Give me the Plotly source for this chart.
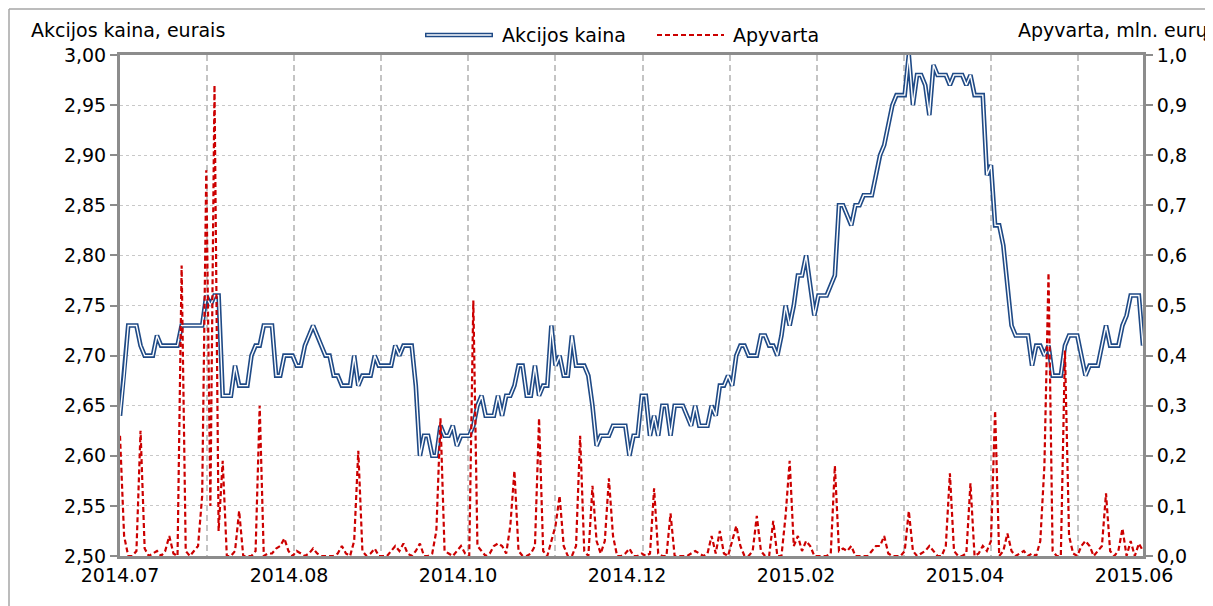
import plotly.graph_objects as go

# ---- data ----
price = [
    2.64, 2.68, 2.73, 2.73, 2.73, 2.71, 2.70, 2.70, 2.70, 2.72,
    2.71, 2.71, 2.71, 2.71, 2.71, 2.73, 2.73, 2.73, 2.73, 2.73,
    2.73, 2.76, 2.75, 2.76, 2.76, 2.66, 2.66, 2.66, 2.69, 2.67,
    2.67, 2.67, 2.70, 2.71, 2.71, 2.73, 2.73, 2.73, 2.68, 2.68,
    2.70, 2.70, 2.70, 2.69, 2.69, 2.71, 2.72, 2.73, 2.72, 2.71,
    2.70, 2.70, 2.68, 2.68, 2.67, 2.67, 2.67, 2.70, 2.67, 2.68,
    2.68, 2.68, 2.70, 2.69, 2.69, 2.69, 2.69, 2.71, 2.70, 2.71,
    2.71, 2.71, 2.67, 2.60, 2.62, 2.62, 2.60, 2.60, 2.63, 2.62,
    2.62, 2.63, 2.61, 2.62, 2.62, 2.62, 2.63, 2.65, 2.66, 2.64,
    2.64, 2.64, 2.66, 2.64, 2.66, 2.66, 2.67, 2.69, 2.69, 2.66,
    2.66, 2.69, 2.66, 2.67, 2.67, 2.73, 2.69, 2.70, 2.68, 2.68,
    2.72, 2.69, 2.69, 2.69, 2.68, 2.65, 2.61, 2.62, 2.62, 2.62,
    2.63, 2.63, 2.63, 2.63, 2.60, 2.62, 2.62, 2.66, 2.66, 2.62,
    2.64, 2.62, 2.65, 2.65, 2.62, 2.65, 2.65, 2.65, 2.64, 2.63,
    2.65, 2.63, 2.63, 2.63, 2.65, 2.64, 2.67, 2.67, 2.68, 2.67,
    2.70, 2.71, 2.71, 2.70, 2.70, 2.70, 2.72, 2.72, 2.71, 2.71,
    2.70, 2.72, 2.75, 2.73, 2.75, 2.78, 2.78, 2.80, 2.77, 2.74,
    2.76, 2.76, 2.76, 2.77, 2.78, 2.85, 2.85, 2.84, 2.83, 2.85,
    2.85, 2.86, 2.86, 2.86, 2.88, 2.90, 2.91, 2.93, 2.95, 2.96,
    2.96, 2.96, 3.00, 2.95, 2.98, 2.98, 2.97, 2.94, 2.99, 2.98,
    2.98, 2.98, 2.97, 2.98, 2.98, 2.98, 2.97, 2.98, 2.96, 2.96,
    2.96, 2.88, 2.89, 2.83, 2.83, 2.81, 2.77, 2.73, 2.72, 2.72,
    2.72, 2.72, 2.69, 2.71, 2.71, 2.70, 2.71, 2.68, 2.68, 2.68,
    2.71, 2.72, 2.72, 2.72, 2.70, 2.68, 2.69, 2.69, 2.69, 2.71,
    2.73, 2.71, 2.71, 2.71, 2.73, 2.74, 2.76, 2.76, 2.76, 2.71,
]

turnover = [
    0.24, 0.04, 0.0, 0.0, 0.01, 0.25, 0.015, 0.0, 0.005, 0.01,
    0.0, 0.01, 0.04, 0.005, 0.0, 0.58, 0.01, 0.0, 0.01, 0.02,
    0.12, 0.77, 0.10, 0.94, 0.05, 0.19, 0.0, 0.0, 0.01, 0.09,
    0.0, 0.0, 0.0, 0.01, 0.30, 0.0, 0.005, 0.005, 0.015, 0.02,
    0.035, 0.01, 0.0, 0.01, 0.005, 0.0, 0.005, 0.015, 0.005, 0.0,
    0.0, 0.0, 0.0, 0.005, 0.02, 0.005, 0.0, 0.03, 0.21, 0.01,
    0.0, 0.005, 0.015, 0.0, 0.0, 0.0, 0.01, 0.02, 0.01, 0.025,
    0.005, 0.0, 0.01, 0.025, 0.0, 0.0, 0.005, 0.05, 0.275, 0.01,
    0.005, 0.0, 0.01, 0.02, 0.005, 0.0, 0.51, 0.02, 0.01, 0.0,
    0.005, 0.02, 0.025, 0.02, 0.005, 0.06, 0.17, 0.01, 0.0, 0.0,
    0.005, 0.02, 0.275, 0.01, 0.0, 0.03, 0.06, 0.12, 0.02, 0.0,
    0.0, 0.02, 0.24, 0.01, 0.0, 0.14, 0.03, 0.005, 0.03, 0.155,
    0.04, 0.0, 0.0, 0.005, 0.015, 0.0, 0.0, 0.005, 0.0, 0.005,
    0.135, 0.005, 0.0, 0.0, 0.085, 0.0, 0.0, 0.0, 0.0, 0.005,
    0.01, 0.005, 0.0, 0.005, 0.04, 0.005, 0.05, 0.005, 0.0, 0.03,
    0.06, 0.02, 0.0, 0.0, 0.01, 0.08, 0.01, 0.0, 0.0, 0.07,
    0.0, 0.0, 0.08, 0.19, 0.02, 0.04, 0.01, 0.03, 0.02, 0.0,
    0.0, 0.0, 0.0, 0.005, 0.18, 0.01, 0.015, 0.01, 0.02, 0.0,
    0.0, 0.0, 0.0, 0.01, 0.02, 0.02, 0.04, 0.005, 0.0, 0.0,
    0.0, 0.01, 0.09, 0.01, 0.0, 0.005, 0.01, 0.02, 0.01, 0.0,
    0.0, 0.02, 0.165, 0.01, 0.0, 0.0, 0.005, 0.145, 0.0, 0.005,
    0.02, 0.01, 0.03, 0.29, 0.0, 0.01, 0.045, 0.01, 0.0, 0.005,
    0.01, 0.0, 0.005, 0.0, 0.03, 0.18, 0.565, 0.01, 0.0, 0.0,
    0.41, 0.04, 0.005, 0.0, 0.02, 0.03, 0.02, 0.0, 0.01, 0.02,
    0.125, 0.01, 0.0, 0.01, 0.055, 0.0, 0.03, 0.0, 0.025, 0.01,
]

tick_labels = ["2014.07", "2014.08", "2014.10", "2014.12", "2015.02", "2015.04", "2015.06"]
series_names = ["Akcijos kaina", "Apyvarta"]
left_title = "Akcijos kaina, eurais"
right_title = "Apyvarta, mln. eurų"

# ---- layout constants (page body adds an 8px offset) ----
OFF = 8
W_PX, H_PX = 1213 - OFF, 606 - OFF
L, R, T, B = 120 - OFF, 1143 - OFF, 55 - OFF, 556 - OFF
LABEL_STEP = 41.14   # trading days between x labels
GRID_STEP = 21.2     # trading days between vertical gridlines

FONT = "DejaVu Sans"
FS = 19
BLUE = "#1F4A86"
RED = "#CC0000"
AXIS = "#8C8C8C"

n = len(price)
idx = list(range(n))

def px_x(p):
    """reference-screen x pixel -> paper coordinate"""
    return (p - OFF - L) / (R - L)

def px_y(p):
    """reference-screen y pixel -> paper coordinate"""
    return (B - (p - OFF)) / (B - T)

fig = go.Figure()
fig.add_trace(go.Scatter(x=idx, y=price, mode="lines", name=series_names[0],
                         line=dict(color=BLUE, width=4.6), showlegend=False,
                         hoverinfo="skip"))
fig.add_trace(go.Scatter(x=idx, y=price, mode="lines", name=series_names[0],
                         line=dict(color="#FFFFFF", width=1.4), showlegend=False))
fig.add_trace(go.Scatter(x=idx, y=turnover, mode="lines", name=series_names[1],
                         yaxis="y2", line=dict(color=RED, width=2.2, dash="5px,3px"),
                         showlegend=False))

tickvals = [i * LABEL_STEP for i in range(len(tick_labels))]
grid_vals = [k * GRID_STEP for k in range(1, 12)]

fig.update_layout(
    width=W_PX, height=H_PX,
    margin=dict(l=L, r=W_PX - R, t=T, b=H_PX - B, pad=0),
    paper_bgcolor="white", plot_bgcolor="white",
    separators=",.",
    font=dict(family=FONT, size=FS, color="#000000"),
    xaxis=dict(range=[0, n - 1], tickmode="array", tickvals=tickvals,
               ticktext=tick_labels, showgrid=False, zeroline=False,
               showline=True, linecolor=AXIS, linewidth=3, mirror=True,
               ticks="", tickfont=dict(size=FS),
               minor=dict(tickmode="array", tickvals=grid_vals, showgrid=True,
                          gridcolor="#C4C4C4", griddash="6px,4px", gridwidth=1.6,
                          ticks="")),
    yaxis=dict(range=[2.5, 3.0], tickmode="linear", tick0=2.5, dtick=0.05,
               tickformat=".2f", showgrid=True, gridcolor="#C8C8C8",
               griddash="dot", gridwidth=1, zeroline=False, showline=True,
               linecolor=AXIS, linewidth=3, ticks="outside", ticklen=7,
               tickcolor=AXIS, tickwidth=1.5, tickfont=dict(size=FS)),
    yaxis2=dict(range=[0, 1.0], tickmode="linear", tick0=0, dtick=0.1,
                tickformat=".1f", overlaying="y", side="right", showgrid=False,
                zeroline=False, showline=True, linecolor=AXIS, linewidth=3,
                ticks="outside", ticklen=7, tickcolor=AXIS, tickwidth=1.5,
                tickfont=dict(size=FS)),
    showlegend=False,
)

shapes = []
# outer chart border (left and top edges visible)
shapes.append(dict(type="line", xref="paper", yref="paper",
                   x0=px_x(9), x1=px_x(9), y0=px_y(9), y1=px_y(640),
                   line=dict(color="#A6A6A6", width=1.5)))
shapes.append(dict(type="line", xref="paper", yref="paper",
                   x0=px_x(9), x1=px_x(1240), y0=px_y(9), y1=px_y(9),
                   line=dict(color="#A6A6A6", width=1.5)))
# custom legend samples
shapes.append(dict(type="line", xref="paper", yref="paper",
                   x0=px_x(425), x1=px_x(493), y0=px_y(35), y1=px_y(35),
                   line=dict(color=BLUE, width=4.6)))
shapes.append(dict(type="line", xref="paper", yref="paper",
                   x0=px_x(426.5), x1=px_x(491.5), y0=px_y(35), y1=px_y(35),
                   line=dict(color="#FFFFFF", width=1.4)))
shapes.append(dict(type="line", xref="paper", yref="paper",
                   x0=px_x(657), x1=px_x(724), y0=px_y(35), y1=px_y(35),
                   line=dict(color=RED, width=2.2, dash="5px,3px")))
fig.update_layout(shapes=shapes)

annotations = [
    dict(text=left_title, xref="paper", yref="paper", x=px_x(29), y=px_y(30),
         xanchor="left", yanchor="middle", showarrow=False, font=dict(size=FS)),
    dict(text=right_title, xref="paper", yref="paper", x=px_x(1210), y=px_y(30),
         xanchor="right", yanchor="middle", showarrow=False, font=dict(size=FS)),
    dict(text=series_names[0], xref="paper", yref="paper", x=px_x(500), y=px_y(35),
         xanchor="left", yanchor="middle", showarrow=False, font=dict(size=FS)),
    dict(text=series_names[1], xref="paper", yref="paper", x=px_x(731), y=px_y(35),
         xanchor="left", yanchor="middle", showarrow=False, font=dict(size=FS)),
]
fig.update_layout(annotations=annotations)

fig.write_html("out.html")
